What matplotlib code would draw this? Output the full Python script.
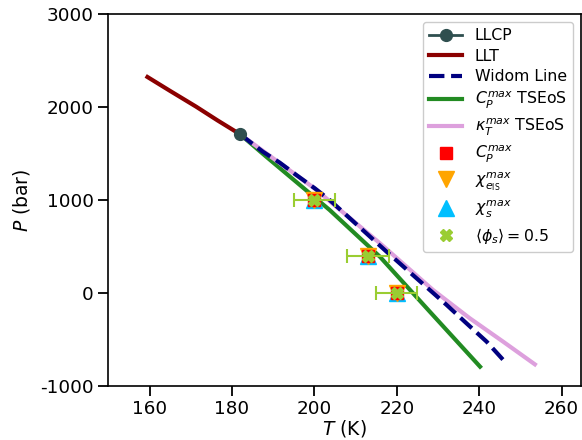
import matplotlib
matplotlib.use('Agg')
import matplotlib.pyplot as plt

# liquid-liquid critical point
llcp_T = [182.0]
llcp_P = [1705.0]

# liquid-liquid transition line
llt_T = [159.5, 165.0, 171.3, 176.5, 182.0]
llt_P = [2322, 2172, 2003, 1855, 1705]

# Widom line
widom_T = [182.0, 187.5, 191.6, 195.6, 200.1, 203.7, 217.5, 224.8, 232.1, 236.9, 241.8, 246.8]
widom_P = [1705, 1518, 1400, 1268, 1124, 999, 443, 156, -131, -328, -526, -770]

# Cp max line (TSEoS)
cp_T = [182.0, 188.3, 203.7, 215.9, 228.0, 240.2]
cp_P = [1705, 1465, 891, 388, -203, -795]

# kappa_T max line (TSEoS)
kt_T = [182.0, 200.0, 215.9, 228.8, 237.7, 245.8, 253.5]
kt_P = [1705, 1124, 533, 30, -274, -526, -770]

# simulation points
sim_T = [200.0, 213.0, 220.0]
sim_P = [1000, 400, 0]
sim_Terr = [5.0, 5.0, 5.0]

plt.rcParams['font.size'] = 13
plt.rcParams['xtick.labelsize'] = 13.2
plt.rcParams['ytick.labelsize'] = 13.2
plt.rcParams['axes.unicode_minus'] = False

fig = plt.figure(figsize=(5.82, 4.4), dpi=100)
ax = fig.add_axes([0.1861, 0.1234, 0.8122, 0.8448])

ax.plot(llcp_T, llcp_P, '-o', color='darkslategray', ms=8.5, lw=2, zorder=6, label='LLCP')
ax.plot(llt_T, llt_P, color='darkred', lw=3, label='LLT')
ax.plot(widom_T, widom_P, '--', color='navy', lw=3, zorder=4, label='Widom Line')
ax.plot(cp_T, cp_P, color='forestgreen', lw=3, zorder=2, label=r'$C_P^{max}$ TSEoS')
ax.plot(kt_T, kt_P, color='plum', lw=3, zorder=3, label=r'$\kappa_T^{max}$ TSEoS')

ax.plot(sim_T, sim_P, 's', color='red', ms=8, zorder=8, label=r'$C_P^{max}$')
ax.plot(sim_T, sim_P, 'v', color='orange', ms=11, zorder=7, label=r'$\chi_{e_{\rm IS}}^{max}$')
ax.plot(sim_T, sim_P, '^', color='deepskyblue', ms=11, zorder=6.5, label=r'$\chi_s^{max}$')
ax.errorbar(sim_T, sim_P, xerr=sim_Terr, fmt='none', ecolor='yellowgreen',
            elinewidth=1.5, capsize=5, capthick=1.5, zorder=9)
ax.plot(sim_T, sim_P, 'X', color='yellowgreen', ms=8, lw=0, zorder=10,
        label=r'$\langle\phi_s\rangle = 0.5$')

ax.set_xlim(150, 264.7)
ax.set_ylim(-1000, 3000)
ax.set_xticks([160, 180, 200, 220, 240, 260])
ax.set_yticks([-1000, 0, 1000, 2000, 3000])
ax.set_xlabel(r'$T$ (K)', fontsize=13.5, labelpad=0)
ax.set_ylabel(r'$P$ (bar)', fontsize=13.5, labelpad=6)
ax.tick_params(direction='out', length=7, width=1.3)
for s in ax.spines.values():
    s.set_linewidth(1.2)

ax.legend(loc='upper right', fontsize=11.3, borderaxespad=0.5, labelspacing=0.36,
          handlelength=2.1, framealpha=1)

plt.savefig('out.png', dpi=100)
